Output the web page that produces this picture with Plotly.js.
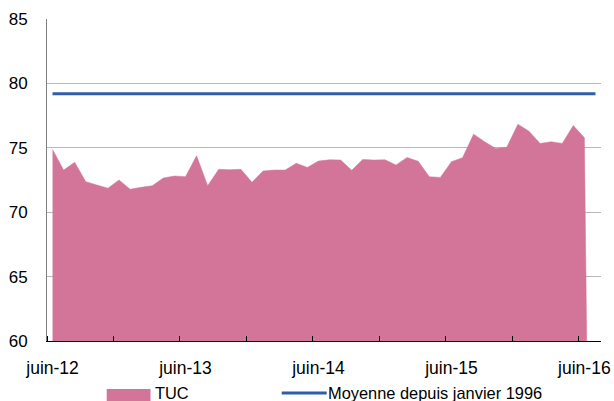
<!DOCTYPE html>
<html>
<head>
<meta charset="utf-8">
<script src="https://cdn.plot.ly/plotly-3.0.1.min.js"></script>
<style>
  html, body { margin: 0; padding: 0; background: #ffffff; }
  #chart { width: 614px; height: 401px; }
</style>
</head>
<body>
<div id="chart"></div>
<script>
// TUC, monthly, juin-2012 .. juillet-2016 (last month empty -> drawn as 0 like the source)
const tuc = [
  74.87, 73.27, 73.87, 72.37, 72.11, 71.86, 72.50, 71.78, 71.93, 72.06,
  72.65, 72.81, 72.76, 74.38, 72.06, 73.33, 73.30, 73.33, 72.32, 73.20,
  73.27, 73.27, 73.80, 73.48, 73.97, 74.07, 74.05, 73.25, 74.10, 74.05,
  74.07, 73.66, 74.25, 73.95, 72.76, 72.70, 73.92, 74.23, 76.06, 75.47,
  74.95, 75.05, 76.83, 76.29, 75.34, 75.47, 75.34, 76.73, 75.78, 0
];
const moyenneValue = [79.2, 79.2];
const tickLabels = ['juin-12', 'juin-13', 'juin-14', 'juin-15', 'juin-16'];
const seriesNames = ['TUC', 'Moyenne depuis janvier 1996'];

const months = tuc.map((_, i) => i);
const moyenneX = [months[0], months[months.length - 1]];
const tickVals = tickLabels.map((_, k) => k * 12);

const pink = '#D27598';
const blue = '#2E5EA9';
const font = 'Liberation Sans, Arial, sans-serif';

const traces = [
  {
    x: months, y: tuc, name: seriesNames[0], type: 'scatter', mode: 'lines',
    fill: 'tozeroy', fillcolor: pink, line: {color: pink, width: 0.5},
    showlegend: false, hoverinfo: 'y'
  },
  {
    x: moyenneX, y: moyenneValue, name: seriesNames[1], type: 'scatter', mode: 'lines',
    line: {color: blue, width: 3}, showlegend: false, hoverinfo: 'y'
  }
];

const W = 614, H = 401, mL = 47, mR = 13, mT = 19, mB = 60;
const pw = W - mL - mR, ph = H - mT - mB;
const px = v => (v - mL) / pw;
const py = v => 1 - (v - mT) / ph;

const layout = {
  width: W, height: H,
  margin: {l: mL, r: mR, t: mT, b: mB, pad: 0},
  paper_bgcolor: '#ffffff', plot_bgcolor: '#ffffff',
  font: {family: font, size: 16, color: '#000000'},
  showlegend: false,
  xaxis: {
    range: [-0.5, months.length - 0.5],
    tickmode: 'array', tickvals: tickVals, ticktext: tickLabels,
    ticks: '', showgrid: false, zeroline: false,
    showline: true, linecolor: '#000000', linewidth: 1,
    ticklabelstandoff: 11,
    tickfont: {family: font, size: 17.5, color: '#000000'},
    minor: {tickmode: 'linear', tick0: -0.5, dtick: 6, ticks: 'inside', ticklen: 5, tickcolor: '#000000', tickwidth: 1, showgrid: false},
    fixedrange: true
  },
  yaxis: {
    range: [60, 85], tickmode: 'linear', tick0: 60, dtick: 5,
    ticks: '', showgrid: true, gridcolor: '#b8b8b8', gridwidth: 1.3,
    zeroline: false, showline: true, linecolor: '#808080', linewidth: 1,
    ticklabelstandoff: 15,
    tickfont: {family: font, size: 17, color: '#000000'},
    fixedrange: true
  },
  shapes: [
    {type: 'rect', xref: 'paper', yref: 'paper', x0: px(106.7), x1: px(150.5), y0: py(389), y1: py(402),
     fillcolor: pink, line: {width: 0}},
    {type: 'line', xref: 'paper', yref: 'paper', x0: px(281.7), x1: px(326.7), y0: py(393), y1: py(393),
     line: {color: blue, width: 3}}
  ],
  annotations: [
    {xref: 'paper', yref: 'paper', x: px(153), y: py(392.5), xanchor: 'left', yanchor: 'middle',
     text: seriesNames[0], showarrow: false, font: {family: font, size: 16.4, color: '#000000'}},
    {xref: 'paper', yref: 'paper', x: px(326), y: py(392.5), xanchor: 'left', yanchor: 'middle',
     text: seriesNames[1], showarrow: false, font: {family: font, size: 16.4, color: '#000000'}}
  ]
};

Plotly.newPlot('chart', traces, layout, {displayModeBar: false, staticPlot: true});
</script>
</body>
</html>
